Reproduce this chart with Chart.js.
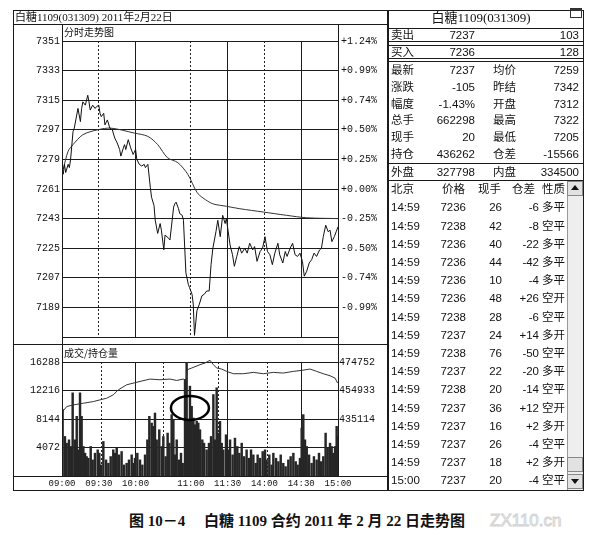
<!DOCTYPE html>
<html>
<head>
<meta charset="utf-8">
<script src="https://cdn.jsdelivr.net/npm/chart.js@4.4.0/dist/chart.umd.min.js"></script>
<style>
  body { margin: 0; width: 599px; height: 535px; background: #fff; position: relative; overflow: hidden;
         font-family: "Liberation Sans", "Noto Sans CJK SC", sans-serif; color: #111; }
  canvas { position: absolute; }
  .t { position: absolute; height: 14px; line-height: 14px; white-space: nowrap; font-size: 11.5px; }
</style>
</head>
<body>
<canvas id="priceChart" width="377" height="322" style="left:13px;top:24px"></canvas>
<canvas id="volChart" width="377" height="145" style="left:13px;top:345px"></canvas>

<script>
// minutes counted from 09:00 over trading time only (09:00-10:15, 10:30-11:30, 13:30-15:00)
const timeTicks = [0, 30, 60, 105, 135, 165, 195, 225];
const timeLabels = ['09:00', '09:30', '10:00', '11:00', '11:30', '14:00', '14:30', '15:00'];
const dottedTimes = [30, 105, 165];

// price panel
const priceTicks = [7189, 7207, 7225, 7243, 7261, 7279, 7297, 7315, 7333, 7351];
const priceBase = 7261;
const priceMinutes = [0, 1, 2, 3, 5, 6, 7, 9, 10, 12,
  13, 15, 16, 17, 19, 21, 22, 23, 25, 27,
  28, 30, 31, 32, 34, 35, 37, 39, 41, 43,
  45, 47, 48, 50, 51, 52, 54, 56, 58, 60,
  61, 63, 65, 67, 68, 70, 72, 73, 75, 76,
  78, 80, 81, 83, 84, 87, 88, 91, 92, 93,
  95, 96, 98, 99, 101, 103, 104, 106, 107, 108,
  110, 112, 114, 116, 118, 120, 121.5, 123, 125.5, 127,
  129, 131, 133, 134, 137, 139, 140.5, 142.5, 144.5, 146.5,
  149, 151, 153, 155.5, 157, 159, 161.5, 163.5, 165.5, 167.5,
  169.5, 171.5, 173.5, 176, 177.5, 180, 182, 183.5, 186, 188,
  190, 192, 194, 196, 197.5, 199.5, 201.5, 203.5, 205.5, 207.5,
  210, 211.5, 213, 215, 217, 218.5, 220, 222, 223.5, 225];
const priceValues = [7273, 7270, 7276, 7271, 7276, 7274, 7279, 7296, 7298, 7306,
  7310, 7302, 7310, 7314, 7312, 7318, 7314, 7309, 7312, 7310,
  7311, 7312, 7307, 7305, 7307, 7300, 7303, 7298, 7297, 7292,
  7289, 7285, 7281, 7286, 7288, 7285, 7291, 7286, 7282, 7285,
  7279, 7276, 7275, 7276, 7274, 7276, 7262, 7256, 7251, 7242,
  7234, 7240, 7236, 7224, 7233, 7231, 7230, 7250, 7252, 7253,
  7249, 7246, 7245, 7242, 7210, 7203, 7201, 7197, 7191, 7172,
  7187, 7191, 7196, 7197, 7199, 7199, 7215, 7225, 7235, 7242,
  7232, 7245, 7240, 7243, 7227, 7221, 7214, 7220, 7226, 7222,
  7225, 7222, 7228, 7224, 7226, 7217, 7223, 7225, 7232, 7223,
  7221, 7215, 7222, 7228, 7221, 7216, 7223, 7220, 7225, 7228,
  7221, 7220, 7222, 7217, 7208, 7211, 7216, 7218, 7222, 7220,
  7224, 7225, 7232, 7239, 7235, 7236, 7229, 7232, 7235, 7238];
const avgMinutes = [1, 5, 9, 17, 29, 40, 59, 70, 78, 86, 94.5, 102.5, 110, 115, 123, 134, 145, 164, 183, 199.5, 225];
const avgValues = [7273, 7284, 7288, 7294, 7297, 7298, 7295, 7293, 7288, 7280, 7277, 7270, 7259, 7255.5, 7252, 7250.5, 7249, 7247, 7245, 7243.5, 7243];

// volume / open interest panel
const volTicks = [4072, 8144, 12216, 16288];
const oiTicks = [435114, 454933, 474752];
const volMinutes = [0.5, 2.4, 3.8, 5.7, 7.3, 8.7, 10.6, 12, 13.3, 14.7,
  16, 17.4, 18.8, 20.1, 21.5, 23.4, 25, 26.9, 29.1, 30.4,
  31.8, 33.7, 35.9, 37.8, 39.7, 41.8, 43.2, 44.6, 46.5, 48.6,
  50.5, 52.7, 54.6, 56.8, 58.2, 59.5, 61.4, 63.6, 65.5, 67.7,
  69.6, 71.2, 73.1, 74.5, 75.8, 77.2, 79.3, 81.3, 82.6, 84.5,
  86.1, 87.5, 89.4, 90.8, 92.1, 93.5, 95.4, 97, 98.4, 100.3,
  101.6, 103, 104.3, 105.7, 107.1, 108.4, 109.8, 111.1, 112.5, 114.4,
  115.8, 117.9, 119.8, 121.5, 123.4, 124.7, 126.1, 127.4, 128.8, 130.2,
  131.5, 133.7, 135.6, 137, 139.1, 141, 142.9, 144.6, 146.5, 148.4,
  150.5, 152.4, 154.1, 156, 157.9, 159.5, 161.4, 163.6, 165.5, 166.8,
  169, 170.9, 172.3, 174.5, 176.4, 178.3, 180.4, 182.3, 184.5, 186.4,
  188.6, 190.5, 192.1, 194, 195.4, 196.7, 198.1, 199.5, 201.4, 203.5,
  205.4, 207.6, 209.5, 211.1, 213, 214.9, 216.6, 218.5, 219.8, 221.2,
  222.6, 223.9, 224.7];
const volValues = [9480, 5650, 4690, 5170, 4220, 11880, 5170, 8530, 3740, 11880,
  8530, 4220, 3260, 2780, 2540, 4220, 2300, 3260, 3740, 3260,
  1580, 4930, 2300, 1820, 2780, 3740, 3260, 3980, 3020, 3500,
  1580, 1820, 2300, 3020, 1820, 2540, 3260, 2300, 1580, 3020,
  5170, 8530, 7570, 7090, 9000, 5170, 6610, 4220, 5650, 2780,
  6130, 4690, 8770, 8050, 3020, 5170, 2300, 3260, 1820, 13800,
  16190, 8050, 12840, 9960, 8290, 7330, 7810, 7570, 6610, 5170,
  4690, 3740, 4690, 5650, 11640, 5170, 12600, 6130, 7810, 4690,
  3740, 5890, 3740, 5170, 3020, 5410, 4220, 3260, 4690, 2780,
  3740, 2540, 3740, 3020, 1820, 3020, 2540, 3500, 3740, 2300,
  3020, 1580, 3260, 2540, 2060, 3020, 1820, 1340, 2300, 2780,
  3260, 2060, 1580, 2540, 6850, 8770, 5170, 4220, 3020, 1820,
  2780, 2300, 3260, 2060, 2780, 6130, 3980, 4690, 4220, 3260,
  4220, 7090, 5650];
const oiMinutes = [0.5, 3.8, 9.2, 17.4, 25.5, 31, 36.4, 41.8, 45.9, 52.7,
  63.6, 71.7, 79.9, 88, 93.5, 98.9, 101, 102.2, 105.7, 112.5,
  116.6, 120.7, 123.4, 126.1, 130.2, 134.2, 139.7, 147.8, 156, 164.1,
  172.3, 180.4, 188.6, 195.4, 202.2, 207.6, 213, 218.5, 222.6, 224.7];
const oiValues = [440240, 443740, 444910, 446070, 447240, 448410, 449570, 451900, 455400, 458900,
  461230, 462870, 462400, 462870, 461930, 462870, 461930, 469390, 470560, 472890,
  474060, 475920, 472890, 470560, 469860, 468230, 466600, 466600, 467530, 466600,
  467530, 467060, 468230, 468930, 469860, 468230, 466600, 465200, 463560, 460070];

// hand-drawn ring around the 11:00 volume burst
const ringMinute = 104.3;
const ringVolume = 9720;

const gridColor = '#1c1c1c';
const monoFont = { family: 'Liberation Mono', size: 10 };
const zip = (xs, ys) => xs.map((x, i) => ({ x: x, y: ys[i] }));
const setTicks = list => s => { s.ticks = list.map(v => ({ value: v })); };
const fixWidth = w => s => { s.width = w; };
const fixHeight = h => s => { s.height = h; };
const plain = v => String(v);
const solidOnly = ctx => dottedTimes.includes(ctx.tick.value) ? 'rgba(0,0,0,0)' : gridColor;

// PRICE CHART
new Chart(document.getElementById('priceChart'), {
    type: 'line',
    data: {
        datasets: [{
            data: zip(priceMinutes, priceValues),
            borderColor: '#111',
            borderWidth: 1,
            pointRadius: 0,
            tension: 0
        }, {
            data: zip(avgMinutes, avgValues),
            borderColor: '#333',
            borderWidth: 1,
            pointRadius: 0,
            tension: 0.3
        }]
    },
    options: {
        responsive: false,
        animation: false,
        layout: { padding: { top: 17, bottom: 2, left: 0, right: 0 } },
        plugins: { legend: { display: false }, tooltip: { enabled: false } },
        scales: {
            x: {
                type: 'linear', min: 0, max: 225,
                afterBuildTicks: setTicks(timeTicks), afterFit: fixHeight(0),
                ticks: { display: false },
                grid: { color: solidOnly, drawTicks: false },
                border: { color: gridColor }
            },
            xd: {
                type: 'linear', position: 'top', min: 0, max: 225,
                afterBuildTicks: setTicks(dottedTimes), afterFit: fixHeight(0),
                ticks: { display: false },
                grid: { color: '#222', drawTicks: false },
                border: { display: false, dash: [2, 2] }
            },
            y: {
                min: 7171, max: 7351,
                afterBuildTicks: setTicks(priceTicks), afterFit: fixWidth(49),
                ticks: { font: monoFont, color: '#111', padding: 2, callback: plain },
                grid: { color: gridColor, drawTicks: false },
                border: { color: gridColor }
            },
            yr: {
                position: 'right', min: 7171, max: 7351,
                afterBuildTicks: setTicks(priceTicks), afterFit: fixWidth(52),
                ticks: {
                    font: monoFont, color: '#111', padding: 3,
                    callback: v => {
                        const p = (v - priceBase) / priceBase * 100;
                        return (p >= 0 ? '+' : '') + p.toFixed(2) + '%';
                    }
                },
                grid: { drawOnChartArea: false, drawTicks: false },
                border: { color: gridColor }
            }
        }
    }
});

// VOLUME / OPEN INTEREST CHART
const ringPlugin = {
    id: 'ring',
    afterDatasetsDraw(chart) {
        const { ctx, scales } = chart;
        const cx = scales.x.getPixelForValue(ringMinute);
        const cy = scales.y.getPixelForValue(ringVolume);
        ctx.save();
        ctx.beginPath();
        ctx.ellipse(cx, cy, 19, 12, 0, 0, Math.PI * 2);
        ctx.lineWidth = 2.5;
        ctx.strokeStyle = '#000';
        ctx.stroke();
        ctx.restore();
    }
};

new Chart(document.getElementById('volChart'), {
    type: 'bar',
    data: {
        datasets: [{
            type: 'line',
            data: zip(oiMinutes, oiValues),
            yAxisID: 'yOI',
            borderColor: '#333',
            borderWidth: 1,
            pointRadius: 0,
            clip: 4,
            order: 0
        }, {
            type: 'bar',
            data: zip(volMinutes, volValues),
            yAxisID: 'y',
            backgroundColor: '#262626',
            barThickness: 1.8,
            order: 1
        }]
    },
    options: {
        responsive: false,
        animation: false,
        layout: { padding: { top: 17, bottom: 0, left: 0, right: 0 } },
        plugins: { legend: { display: false }, tooltip: { enabled: false } },
        scales: {
            x: {
                type: 'linear', min: 0, max: 225, offset: false,
                afterBuildTicks: setTicks(timeTicks), afterFit: fixHeight(14),
                ticks: {
                    font: { family: 'Liberation Mono', size: 9 }, color: '#111', padding: 2,
                    autoSkip: false, maxRotation: 0,
                    callback: v => timeLabels[timeTicks.indexOf(v)]
                },
                grid: { color: solidOnly, drawTicks: false, offset: false },
                border: { color: gridColor }
            },
            xd: {
                type: 'linear', position: 'top', min: 0, max: 225,
                afterBuildTicks: setTicks(dottedTimes), afterFit: fixHeight(0),
                ticks: { display: false },
                grid: { color: '#222', drawTicks: false },
                border: { display: false, dash: [2, 2] }
            },
            y: {
                min: 0, max: 16288,
                afterBuildTicks: setTicks(volTicks), afterFit: fixWidth(49),
                ticks: { font: monoFont, color: '#111', padding: 2, callback: plain },
                grid: { color: gridColor, drawTicks: false },
                border: { color: gridColor }
            },
            yOI: {
                position: 'right', min: 395476, max: 474752,
                afterBuildTicks: setTicks(oiTicks), afterFit: fixWidth(52),
                ticks: { font: monoFont, color: '#111', padding: 1, callback: plain },
                grid: { drawOnChartArea: false, drawTicks: false },
                border: { color: gridColor }
            }
        }
    },
    plugins: [ringPlugin]
});

// frame, headers and quote board
function box(l, t, w, h, css) {
    const d = document.createElement('div');
    d.style.cssText = 'position:absolute;left:' + l + 'px;top:' + t + 'px;width:' + w + 'px;height:' + h + 'px;' + (css || '');
    document.body.appendChild(d);
    return d;
}
function hline(x1, x2, y) { box(x1, y, x2 - x1, 1, 'background:#1a1a1a'); }
function vline(x, y1, y2) { box(x, y1, 1, y2 - y1, 'background:#1a1a1a'); }
function text(str, x, y, align, css) {
    const d = document.createElement('div');
    d.className = 't';
    d.textContent = str;
    let shift = '';
    if (align === 'right') shift = 'transform:translateX(-100%);';
    if (align === 'center') shift = 'transform:translateX(-50%);';
    d.style.cssText = 'left:' + x + 'px;top:' + (y - 7) + 'px;' + shift + (css || '');
    document.body.appendChild(d);
}

// left panel frame
box(13, 10, 376, 481, 'border:1px solid #1a1a1a;box-sizing:border-box');
hline(13, 388, 24);
vline(62, 24, 476);
vline(338, 24, 476);
hline(13, 388, 344);
hline(13, 388, 476);
text('白糖1109(031309) 2011年2月22日', 15, 17, 'left', 'font-family:"Liberation Serif","Noto Sans CJK SC";font-size:11px');
text('分时走势图', 64, 32, 'left', 'font-family:"Noto Sans CJK SC";font-size:10px');
text('成交/持仓量', 64, 353, 'left', 'font-family:"Noto Sans CJK SC";font-size:10px');

// right panel
const quoteRows = [
    ['最新', '7237', '均价', '7259'],
    ['涨跌', '-105', '昨结', '7342'],
    ['幅度', '-1.43%', '开盘', '7312'],
    ['总手', '662298', '最高', '7322'],
    ['现手', '20', '最低', '7205'],
    ['持仓', '436262', '仓差', '-15566']
];
const trades = [
    ['14:59', '7236', '26', '-6', '多平'], ['14:59', '7238', '42', '-8', '空平'],
    ['14:59', '7236', '40', '-22', '多平'], ['14:59', '7236', '44', '-42', '多平'],
    ['14:59', '7236', '10', '-4', '多平'], ['14:59', '7236', '48', '+26', '空开'],
    ['14:59', '7238', '28', '-6', '空平'], ['14:59', '7237', '24', '+14', '多开'],
    ['14:59', '7238', '76', '-50', '空平'], ['14:59', '7237', '22', '-20', '多平'],
    ['14:59', '7238', '20', '-14', '空平'], ['14:59', '7237', '36', '+12', '空开'],
    ['14:59', '7237', '16', '+2', '多开'], ['14:59', '7237', '26', '-4', '空平'],
    ['14:59', '7237', '18', '+2', '多开'], ['15:00', '7237', '20', '-4', '空平']
];

box(387, 10, 197, 481, 'border:1px solid #1a1a1a;box-sizing:border-box');
[28, 41, 45, 58, 61, 163, 180].forEach(y => hline(387, 584, y));
box(570, 8, 12, 10, 'border:1px solid #333;border-top:3px solid #333;box-sizing:border-box;background:#fff');
text('白糖1109(031309)', 481, 18, 'center', 'font-size:13px;font-family:"Liberation Serif","Noto Sans CJK SC"');

text('卖出', 391, 35, 'left');
text('7237', 475, 35, 'right');
text('103', 579, 35, 'right');
text('买入', 391, 51.5, 'left');
text('7236', 475, 51.5, 'right');
text('128', 579, 51.5, 'right');
quoteRows.forEach((r, i) => {
    const y = 70 + i * 16.8;
    text(r[0], 391, y, 'left');
    text(r[1], 475, y, 'right');
    text(r[2], 493, y, 'left');
    text(r[3], 579, y, 'right');
});
text('外盘', 391, 171.5, 'left');
text('327798', 475, 171.5, 'right');
text('内盘', 493, 171.5, 'left');
text('334500', 579, 171.5, 'right');

text('北京', 391, 189, 'left');
text('价格', 465, 189, 'right');
text('现手', 501, 189, 'right');
text('仓差', 535, 189, 'right');
text('性质', 542, 189, 'left');
trades.forEach((r, i) => {
    const y = 207.3 + i * 18.2;
    text(r[0], 391, y, 'left');
    text(r[1], 466, y, 'right');
    text(r[2], 502, y, 'right');
    text(r[3], 539, y, 'right');
    text(r[4], 542, y, 'left');
});

// scroll bar
box(567, 181, 16, 309, 'background:#eeeeee;border-left:1px solid #999;box-sizing:border-box');
box(567, 181, 16, 15, 'background:#e2e2e2;border:1px solid #888;box-sizing:border-box');
box(571, 185, 0, 0, 'border-left:4px solid transparent;border-right:4px solid transparent;border-bottom:5px solid #111');
box(567, 457, 16, 15, 'background:#e2e2e2;border:1px solid #888;box-sizing:border-box');
box(567, 474, 16, 15, 'background:#e2e2e2;border:1px solid #888;box-sizing:border-box');
box(571, 479, 0, 0, 'border-left:4px solid transparent;border-right:4px solid transparent;border-top:5px solid #111');

// caption and watermark
text('图 10－4\u3000 白糖 1109 合约 2011 年 2 月 22 日走势图', 297, 521, 'center',
     'font-family:"Liberation Serif","Noto Sans CJK SC";font-weight:bold;font-size:15px;height:18px;line-height:18px;top:512px');
text('ZX110.cn', 490, 521, 'left',
     'font-size:17px;color:#fff;-webkit-text-stroke:1px #d2d2d2;height:20px;line-height:20px;top:511px');
</script>
</body>
</html>
